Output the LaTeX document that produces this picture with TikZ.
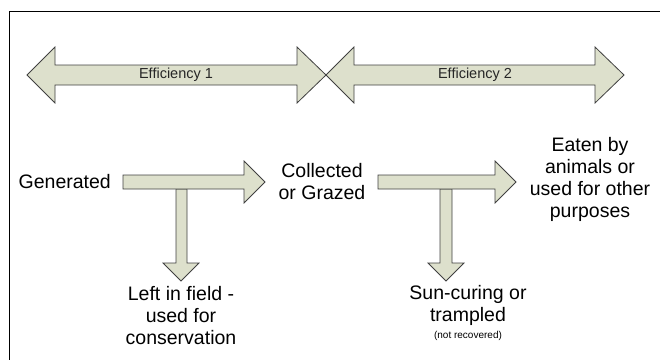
\documentclass[tikz,border=0pt]{standalone}
\usepackage{fontspec}
\setmainfont{Liberation Sans}
\usetikzlibrary{calc,positioning}
\definecolor{arrowfill}{RGB}{221,224,204}
\definecolor{arrowline}{RGB}{64,64,64}
\tikzset{
  blockarrow/.style={fill=arrowfill,draw=arrowline,line width=0.8pt,line join=miter},
  lbl/.style={align=center,inner sep=0pt,font=\fontsize{19.5}{22}\selectfont},
  efflbl/.style={inner sep=0pt,text=black!85,font=\fontsize{14.5}{16}\selectfont}
}

\begin{document}
\begin{tikzpicture}[x=1pt,y=-1pt]
\useasboundingbox (0,0) rectangle (660,360);
\draw[line width=1pt] (660,11) -- (9,11) -- (9,360);
% efficiency double arrows
\filldraw[blockarrow] (27,75) -- (55,47) -- (55,65) -- (297,65) -- (297,47) -- (326,75)
  -- (297,103) -- (297,85) -- (55,85) -- (55,103) -- cycle;
\filldraw[blockarrow] (326,75) -- (354,47) -- (354,65) -- (595,65) -- (595,47) -- (624,75)
  -- (595,103) -- (595,85) -- (354,85) -- (354,103) -- cycle;
\node[efflbl] (eff1) at (176,75) {Efficiency 1};
\node[efflbl] (eff2) at (475,75) {Efficiency 2};
% flow arrows, the down ones first
\filldraw[blockarrow] (176,189) -- (176,263) -- (163,263) -- (181,281) -- (199,263) -- (187,263) -- (187,189) -- cycle;
\filldraw[blockarrow] (123,175) -- (244,175) -- (244,161) -- (265,182) -- (244,203) -- (244,189) -- (123,189) -- cycle;
\filldraw[blockarrow] (440,189) -- (440,263) -- (428,263) -- (446,281) -- (464,263) -- (452,263) -- (452,189) -- cycle;
\filldraw[blockarrow] (378,175) -- (495,175) -- (495,161) -- (516,182) -- (495,203) -- (495,189) -- (378,189) -- cycle;
% texts
\node[lbl,anchor=east] (gen) at (111,182) {Generated};
\node[lbl] (coll) at (322,182) {Collected\\or Grazed};
\node[lbl] (eaten) at (590,179) {Eaten by\\animals or\\used for other\\purposes};
\node[lbl] (left) at (181,316) {Left in field -\\used for\\conservation};
\node[lbl,anchor=north] (sun) at (468,285) {Sun-curing or\\trampled\\[-5pt]{\fontsize{10}{12}\selectfont (not recovered)}};
\end{tikzpicture}
\end{document}
